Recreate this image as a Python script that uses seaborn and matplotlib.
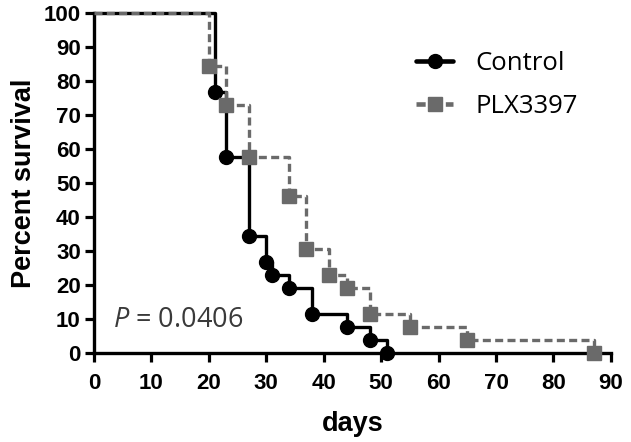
import numpy as np
import pandas as pd
import seaborn as sns
import matplotlib.pyplot as plt
from matplotlib.lines import Line2D

# Kaplan-Meier step data (days, percent survival)
control_days = [0, 21, 23, 27, 30, 31, 34, 38, 44, 48, 51]
control_surv = [100, 76.9, 57.7, 34.6, 26.9, 23.1, 19.2, 11.5, 7.7, 3.8, 0]
plx_days = [0, 20, 23, 27, 34, 37, 41, 44, 48, 55, 65, 87]
plx_surv = [100, 84.6, 73.1, 57.7, 46.2, 30.8, 23.1, 19.2, 11.5, 7.7, 3.8, 0]
x_ticks = list(range(0, 91, 10))
y_ticks = list(range(0, 101, 10))

sns.set_style('ticks', {'axes.edgecolor': 'black', 'text.color': 'black',
                        'xtick.color': 'black', 'ytick.color': 'black',
                        'axes.labelcolor': 'black'})
plt.rcParams['font.family'] = ['Liberation Sans', 'DejaVu Sans']
plt.rcParams['mathtext.fontset'] = 'custom'
plt.rcParams['mathtext.it'] = 'Open Sans:italic'
plt.rcParams['mathtext.rm'] = 'Open Sans'

ctrl = pd.DataFrame({'days': control_days, 'surv': control_surv})
plx = pd.DataFrame({'days': plx_days, 'surv': plx_surv})

fig = plt.figure(figsize=(6.31, 4.42), dpi=100)
ax = fig.add_axes([0.149, 0.2007, 0.819, 0.7693])

black = '#000000'
grey = '#6a6a6a'
lw = 2.4

sns.lineplot(data=ctrl, x='days', y='surv', ax=ax, color=black, lw=lw,
             drawstyle='steps-post', sort=False, estimator=None, clip_on=False, zorder=3)
ax.plot(ctrl['days'][1:], ctrl['surv'][1:], ls='none', marker='o', ms=10,
        color=black, clip_on=False, zorder=4)

sns.lineplot(data=plx, x='days', y='surv', ax=ax, color=grey, lw=lw,
             drawstyle='steps-post', sort=False, estimator=None, clip_on=False,
             zorder=5)
ax.lines[-1].set_dashes([2.4, 1.3])
ax.plot(plx['days'][1:], plx['surv'][1:], ls='none', marker='s', ms=10,
        color=grey, clip_on=False, zorder=6)

ax.set_xlim(0, 90)
ax.set_ylim(0, 100)
ax.set_xticks(x_ticks)
ax.set_yticks(y_ticks)
ax.set_xticklabels([str(t) for t in x_ticks], fontsize=16, fontweight='bold')
ax.set_yticklabels([str(t) for t in y_ticks], fontsize=16, fontweight='bold')
ax.tick_params(axis='both', length=6.5, width=2.3, direction='out', color='black')
ax.tick_params(axis='x', pad=8)
ax.tick_params(axis='y', pad=3)
for s in ['top', 'right']:
    ax.spines[s].set_visible(False)
for s in ['left', 'bottom']:
    ax.spines[s].set_linewidth(lw)
    ax.spines[s].set_color('black')
    ax.spines[s].set_capstyle('projecting')

ax.set_xlabel('days', fontsize=19.5, fontweight='bold', labelpad=12)
ax.set_ylabel('Percent survival', fontsize=19.5, fontweight='bold', labelpad=5)

handles = [
    Line2D([], [], color=black, lw=3.3, marker='o', ms=10),
    Line2D([], [], color=grey, lw=3.3, marker='s', ms=10, dashes=[2.0, 1.2]),
]
leg = ax.legend(handles, ['Control', 'PLX3397'], loc='upper left',
                bbox_to_anchor=(0.623, 0.89), frameon=False, borderpad=0,
                borderaxespad=0, handlelength=1.45, handletextpad=0.85,
                labelspacing=0.72, prop={'family': 'Open Sans', 'size': 18.5})

ax.text(3.3, 9.8, r'$P$ = 0.0406', fontsize=19.5, color='#3a3a3a',
        family='Open Sans', ha='left', va='center')

fig.savefig('out.png', dpi=100)
